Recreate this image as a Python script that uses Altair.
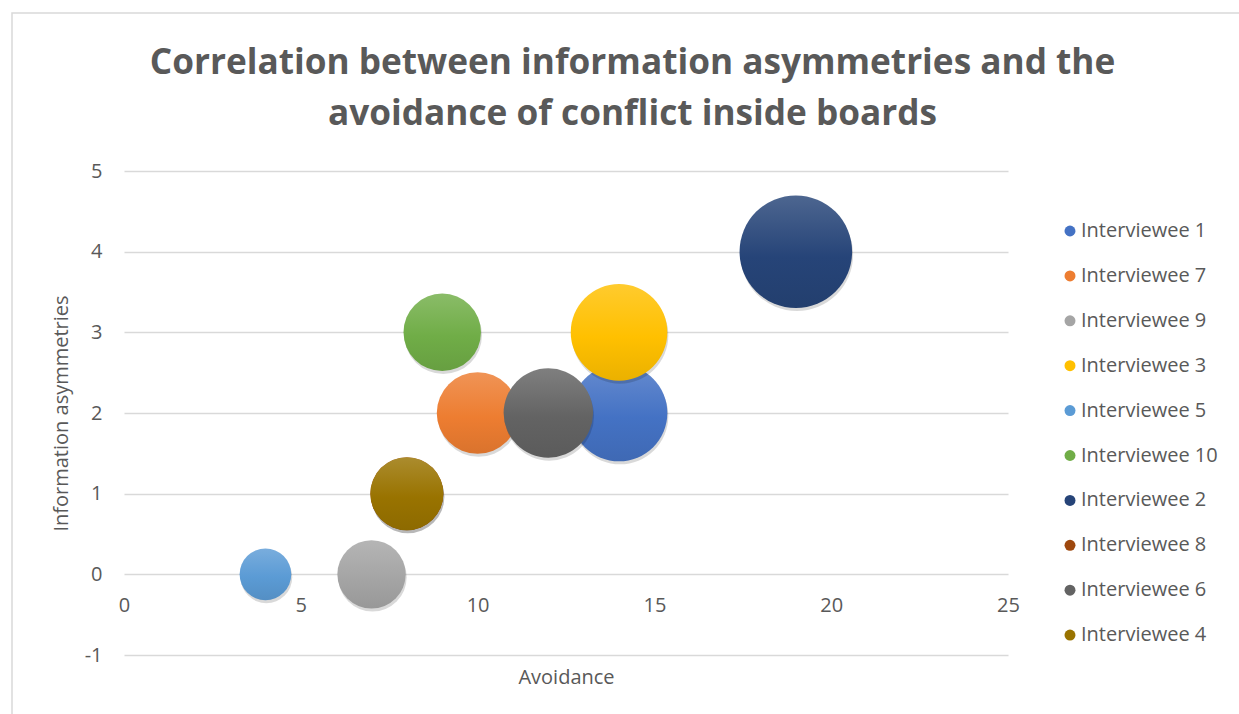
import altair as alt
import pandas as pd

# ---- data ----
names = ["Interviewee 1", "Interviewee 7", "Interviewee 9", "Interviewee 3", "Interviewee 5",
         "Interviewee 10", "Interviewee 2", "Interviewee 8", "Interviewee 6", "Interviewee 4"]
avoidance = [14, 10, 7, 14, 4, 9, 19, 8, 12, 8]
asymmetry = [2, 2, 0, 3, 0, 3, 4, 1, 2, 1]
bubble = [14, 10, 7, 14, 4, 9, 19, 8, 12, 8]
colors = ["#4472C4", "#ED7D31", "#A5A5A5", "#FFC000", "#5B9BD5",
          "#70AD47", "#264478", "#9E480E", "#636363", "#997300"]
x_ticks = [0, 5, 10, 15, 20, 25]
y_ticks = [-1, 0, 1, 2, 3, 4, 5]
title_lines = ["Correlation between information asymmetries and the",
               "avoidance of conflict inside boards"]

df = pd.DataFrame({"name": names, "avoidance": avoidance, "asym": asymmetry,
                   "size": bubble, "idx": list(range(len(names)))})

FONT = "Open Sans"
TXT = "#595959"
W, H = 884, 484
FS = 20
TFS = 35.2


def mix(hexc, other, f):
    a = [int(hexc[i:i + 2], 16) for i in (1, 3, 5)]
    b = [int(other[i:i + 2], 16) for i in (1, 3, 5)]
    c = [round(a[k] * (1 - f) + b[k] * f) for k in range(3)]
    return "#%02x%02x%02x" % tuple(c)


xs = alt.Scale(domain=[0, 25], nice=False, zero=False)
ys = alt.Scale(domain=[-1, 5], nice=False, zero=False)
ss = alt.Scale(domain=[0, 19], range=[0, 12668], zero=True)

x_enc = alt.X("avoidance:Q", scale=xs,
              axis=alt.Axis(values=x_ticks, format="d", title="Avoidance", grid=False,
                            domain=False, ticks=False, tickSize=0, offset=-80.67,
                            labelPadding=21, labelFlush=False, titlePadding=52,
                            labelFontSize=FS, titleFontSize=FS,
                            labelColor=TXT, titleColor=TXT, labelFont=FONT, titleFont=FONT,
                            titleFontWeight="normal"))
y_enc = alt.Y("asym:Q", scale=ys,
              axis=alt.Axis(values=y_ticks, title="Information asymmetries",
                            labelExpr="datum.value < 0 ? '-' + abs(datum.value) : '' + datum.value",
                            grid=True, gridColor="#D9D9D9", gridWidth=1.3, domain=False,
                            ticks=False, tickSize=0, labelPadding=22, titlePadding=13,
                            labelFlush=False, labelFontSize=FS, titleFontSize=FS,
                            labelColor=TXT, titleColor=TXT, labelFont=FONT, titleFont=FONT,
                            titleFontWeight="normal"))

base = alt.Chart(df)

# legend-only layer (invisible marks) that also carries the axes
legend_layer = base.mark_circle(opacity=0).encode(
    x=x_enc, y=y_enc,
    color=alt.Color("name:N", scale=alt.Scale(domain=names, range=colors),
                    legend=alt.Legend(title=None, orient="none", legendX=936, legendY=50,
                                      symbolType="circle", symbolSize=120, symbolOpacity=1,
                                      symbolStrokeWidth=0,
                                      labelFontSize=FS, labelFont=FONT, labelColor=TXT,
                                      labelOffset=1, rowPadding=24.9, labelLimit=300)),
)

layers = [legend_layer]
for n, c in zip(names, colors):
    grad = alt.LinearGradient(gradient="linear", x1=0, y1=0, x2=0, y2=1,
                              stops=[alt.GradientStop(offset=0, color=mix(c, "#ffffff", 0.18)),
                                     alt.GradientStop(offset=0.55, color=c),
                                     alt.GradientStop(offset=1, color=mix(c, "#000000", 0.08))])
    sub = base.transform_filter(alt.datum.name == n)
    shadow = sub.mark_circle(fill="#000000", opacity=0.15, yOffset=3, xOffset=1).encode(
        x=alt.X("avoidance:Q", scale=xs), y=alt.Y("asym:Q", scale=ys),
        size=alt.Size("size:Q", scale=ss, legend=None))
    bub = sub.mark_circle(fill=grad, opacity=1).encode(
        x=alt.X("avoidance:Q", scale=xs), y=alt.Y("asym:Q", scale=ys),
        size=alt.Size("size:Q", scale=ss, legend=None))
    layers += [shadow, bub]

one = alt.Chart(pd.DataFrame({"a": [0]}))
border = one.mark_rect(fill=None, stroke="#D9D9D9", strokeWidth=1.5).encode(
    x=alt.value(-112), x2=alt.value(1140), y=alt.value(-158), y2=alt.value(560))

title1 = one.mark_text(text=title_lines[0], font=FONT, fontSize=TFS, fontWeight="bold",
                       color=TXT, align="center", baseline="alphabetic").encode(
    x=alt.value(508.5), y=alt.value(-97))
title2 = one.mark_text(text=title_lines[1], font=FONT, fontSize=TFS, fontWeight="bold",
                       color=TXT, align="center", baseline="alphabetic").encode(
    x=alt.value(508.5), y=alt.value(-46))

chart = alt.layer(border, title1, title2, *layers).properties(
    width=W, height=H,
    background="white",
    padding={"left": 124, "top": 171, "right": 231, "bottom": 59},
    autosize=alt.AutoSizeParams(type="none"),
).configure_view(strokeWidth=0)

chart.save("out.html", embed_options={"renderer": "svg", "actions": False})
